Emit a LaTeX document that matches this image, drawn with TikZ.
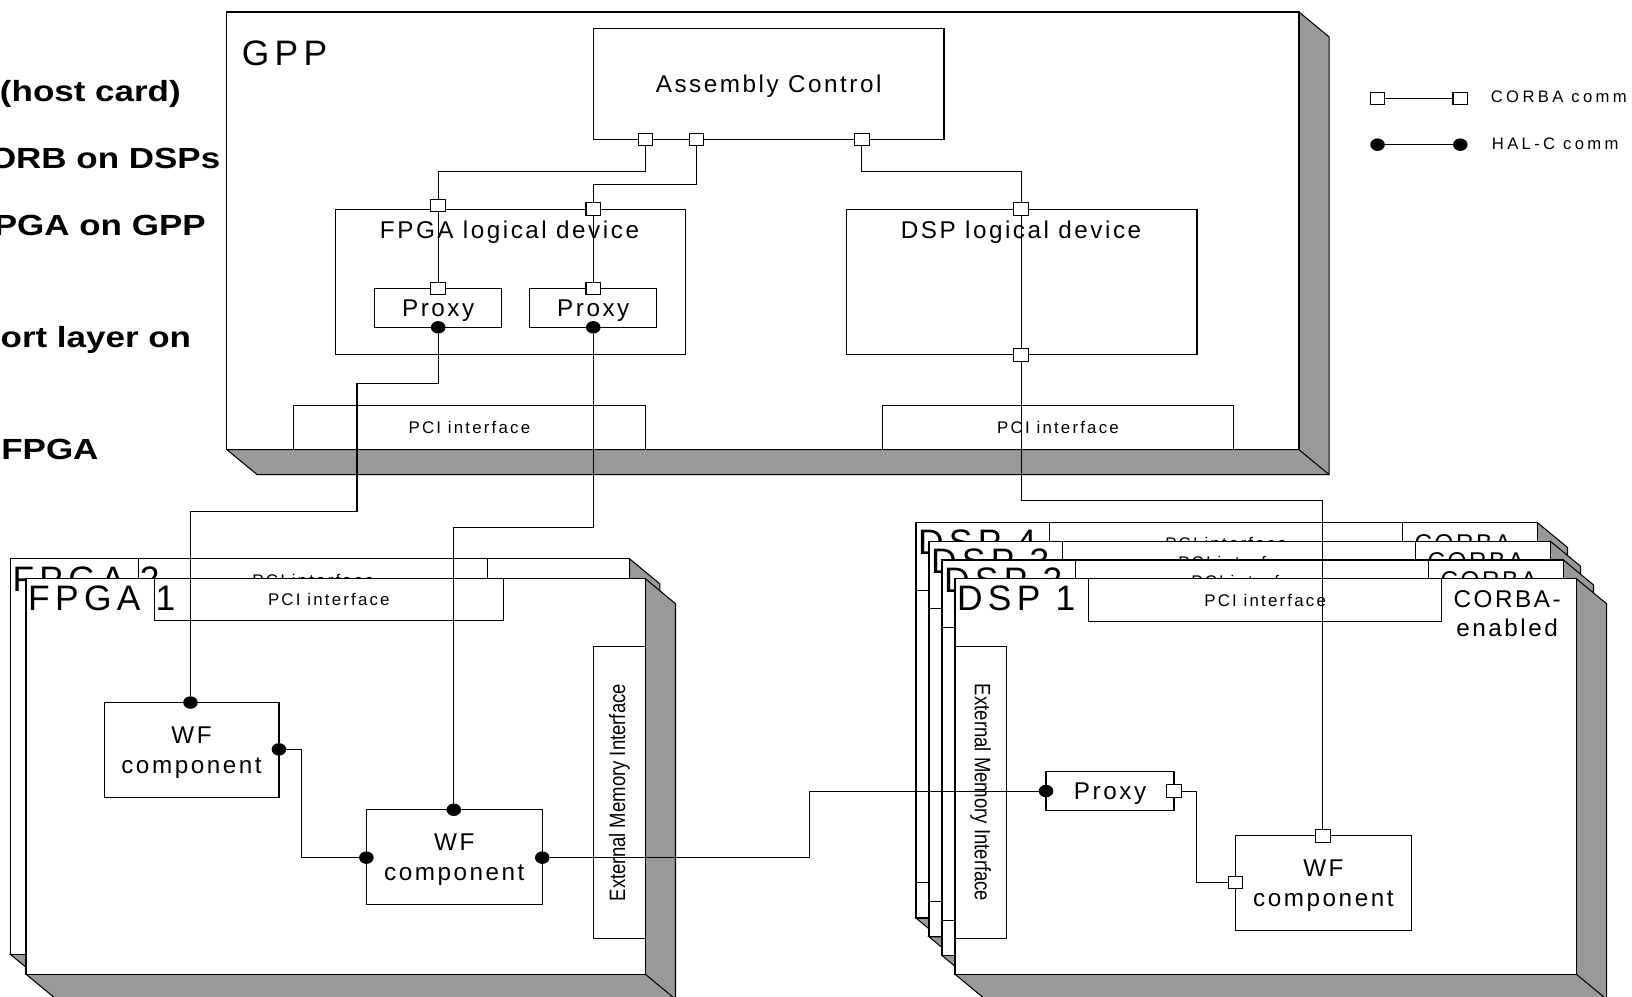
\documentclass[tikz,border=0pt]{standalone}
\usepackage{graphicx}
\usepackage{fontspec}
\setmainfont{Liberation Sans}
\newfontfamily\emifont{Liberation Sans}
\newfontfamily\fbig{Liberation Sans}[LetterSpace=15]
\newfontfamily\fmid{Liberation Sans}[LetterSpace=10.5]
\newfontfamily\fpci{Liberation Sans}[LetterSpace=13]
\newfontfamily\fleg{Liberation Sans}[LetterSpace=20]
\newfontfamily\fbold{Liberation Sans Bold}[FakeStretch=1.2]
\usetikzlibrary{shapes.geometric}
\definecolor{shadegray}{RGB}{153,153,153}

\tikzset{
  bx/.style={draw, fill=white, inner sep=0pt, outer sep=0pt, line width=0.55pt},
  cport/.style={draw, fill=white, inner sep=0pt, outer sep=0pt, minimum width=7pt, minimum height=6pt, line width=0.5pt},
  haldot/.style={ellipse, fill=black, inner sep=0pt, outer sep=0pt, minimum width=7pt, minimum height=6pt},
  wire/.style={line width=0.5pt},
  bigl/.style={font=\fbig\fontsize{17}{20}\selectfont, inner sep=0pt, anchor=base west},
  midt/.style={font=\fmid\fontsize{11.65}{14.5}\selectfont, align=center, inner sep=0pt},
  boxt/.style={midt, yshift=-1.4pt},
  pcit/.style={font=\fpci\fontsize{8.1}{10}\selectfont},
  legt/.style={font=\fleg\fontsize{8}{10}\selectfont, inner sep=0pt, anchor=west},
  boldt/.style={font=\fbold\fontsize{14}{16}\selectfont, inner sep=0pt, anchor=base east},
}

\newcommand\emitext{\scalebox{1}[1.2]{\emifont\fontsize{8.9}{10}\selectfont External Memory Interface}}

\newcommand\boardshape[4]{%
  \filldraw[fill=shadegray, line width=0.5pt] (#3,#2) -- ++(29,24) -- (#3+29,#4+24) -- (#1+29,#4+24) -- (#1,#4) -- (#3,#4) -- cycle;
  \draw[line width=0.5pt] (#3,#4) -- ++(29,24);
  \filldraw[fill=white, line width=0.55pt] (#1,#2) rectangle (#3,#4);
}

\newcommand\fpgaboard[3]{%
  \boardshape{#1}{#2}{#1+595}{#2+380}
  \node[bx, pcit, minimum width=167.75pt, minimum height=20.25pt, anchor=north west] (fpgapci#3) at (#1+123.2,#2) {PCI interface};
  \node[bigl] (fpgalabel#3) at (#1+1.7,#2+31) {FPGA #3};
  \node[bx, minimum width=25pt, minimum height=140.5pt, anchor=north east] (fpgaemi#3) at (#1+595,#2+65) {\rotatebox{90}{\emitext}};
}

\newcommand\dspboard[3]{%
  \boardshape{#1}{#2}{#1+597}{#2+380}
  \node[bx, pcit, minimum width=169.5pt, minimum height=20.5pt, anchor=north west] (dsppci#3) at (#1+128.5,#2) {PCI interface};
  \node[bigl] (dsplabel#3) at (#1+1.7,#2+31) {DSP #3};
  \node[midt, font=\fmid\fontsize{11.65}{14}\selectfont] (dspcorba#3) at (#1+530.5,#2+33.5) {CORBA-\\enabled};
  \node[bx, minimum width=24.75pt, minimum height=140.5pt, anchor=north west] (dspemi#3) at (#1,#2+65) {\rotatebox{-90}{\emitext}};
}

\begin{document}
\begin{tikzpicture}[x=0.5pt, y=-0.5pt]
\useasboundingbox (0,0) rectangle (1568,957);

% left text fragments
\node[boldt] (b1) at (174,98) {(host card)};
\node[boldt] (b2) at (212,162) {ORB on DSPs};
\node[boldt] (b3) at (198,226) {PGA on GPP};
\node[boldt] (b4) at (184,334) {ort layer on};
\node[boldt] (b5) at (95,441) {FPGA};

% GPP
\boardshape{218}{11.5}{1248}{432}
\node[bigl] (gpplabel) at (232,63) {GPP};
\node[bx, minimum width=168.5pt, minimum height=53.5pt] (ac) at (738.5,80.5) {};
\node[boxt] (act) at (ac.center) {Assembly Control};
\node[bx, minimum width=168.5pt, minimum height=70pt] (fld) at (490.5,271) {};
\node[midt, anchor=base] (fldt) at (489.5,229) {FPGA logical device};
\node[bx, minimum width=168.5pt, minimum height=70pt] (dld) at (981.5,271) {};
\node[midt, anchor=base] (dldt) at (981,229) {DSP logical device};
\node[bx, minimum width=61pt, minimum height=18.75pt] (px1) at (421,295.75) {};
\node[boxt] (px1t) at (px1.center) {Proxy};
\node[bx, minimum width=61pt, minimum height=18.75pt] (px2) at (570,295.75) {};
\node[boxt] (px2t) at (px2.center) {Proxy};
\node[bx, pcit, minimum width=169pt, minimum height=21pt] (gpci1) at (451,411) {PCI interface};
\node[bx, pcit, minimum width=168.5pt, minimum height=21pt] (gpci2) at (1016.5,411) {PCI interface};
\node[cport] (acp1) at (620,134) {};
\node[cport] (acp2) at (669,134) {};
\node[cport] (acp3) at (828,134) {};
\node[cport] (fldp1) at (421,197.5) {};
\node[cport] (fldp2) at (570,201) {};
\node[cport] (px1p) at (421,277) {};
\node[cport] (px2p) at (570,277) {};
\node[cport] (dldp1) at (981,201) {};
\node[cport] (dldp2) at (981,341) {};
\node[haldot] (px1d) at (421,314.5) {};
\node[haldot] (px2d) at (570,314.5) {};

% FPGA boards
\fpgaboard{10}{537}{2}
\fpgaboard{25}{556}{1}
\node[bx, minimum width=84pt, minimum height=45.5pt] (wf1) at (184,720.5) {};
\node[boxt] (wf1txt) at (wf1.center) {WF\\component};
\node[bx, minimum width=84.5pt, minimum height=45.5pt] (wf2) at (436.5,823.5) {};
\node[boxt] (wf2txt) at (wf2.center) {WF\\component};
\node[haldot] (wf1t) at (183,675) {};
\node[haldot] (wf1r) at (268,720) {};
\node[haldot] (wf2t) at (436,778) {};
\node[haldot] (wf2l) at (352,824) {};
\node[haldot] (wf2r) at (521,824) {};

% DSP boards
\dspboard{880}{502}{4}
\dspboard{892.5}{520}{3}
\dspboard{905}{538}{2}
\dspboard{917.5}{556}{1}
\node[bx, minimum width=61.5pt, minimum height=19pt] (dpx) at (1066.5,760) {};
\node[boxt] (dpxt) at (dpx.center) {Proxy};
\node[bx, minimum width=84.5pt, minimum height=45.5pt] (dwf) at (1271.5,848.5) {};
\node[boxt] (dwftxt) at (dwf.center) {WF\\component};
\node[haldot] (dpxl) at (1005,760) {};
\node[cport] (dpxr) at (1128,760) {};
\node[cport] (dwfp) at (1271,803) {};
\node[cport] (dwfl) at (1187,848) {};

% legend
\node[cport] (lc1) at (1323.5,94.5) {};
\node[cport] (lc2) at (1403,94.5) {};
\node[haldot] (lh1) at (1323.5,139) {};
\node[haldot] (lh2) at (1403,139) {};
\node[legt] (lct) at (1432,93) {CORBA comm};
\node[legt] (lht) at (1433,138) {HAL-C comm};
\draw[wire] (lc1) -- (lc2);
\draw[wire] (lh1) -- (lh2);

% waypoints
\coordinate (h1) at (0,165);
\coordinate (h2) at (0,177);
\coordinate (h3) at (0,481);
\coordinate (h4) at (0,507);
\coordinate (k1) at (343,368);
\coordinate (k2) at (343,491);
\coordinate (v1) at (290,0);
\coordinate (v2) at (778,0);
\coordinate (v3) at (1150,0);

% connectors
\draw[wire] (acp1.south) -- (acp1.south |- h1) -| (fldp1.north);
\draw[wire] (acp2.south) -- (acp2.south |- h2) -| (fldp2.north);
\draw[wire] (acp3.south) -- (acp3.south |- h1) -| (dldp1.north);
\draw[wire] (fldp1.south) -- (px1p.north);
\draw[wire] (fldp2.south) -- (px2p.north);
\draw[wire] (dldp1.south) -- (dldp2.north);
\draw[wire] (dldp2.south) -- (dldp2.south |- h3) -| (dwfp.north);
\draw[wire] (px1d.south) |- (k1) -- (k2) -| (wf1t.north);
\draw[wire] (px2d.south) -- (px2d.south |- h4) -| (wf2t.north);
\draw[wire] (wf1r.east) -- (wf1r.east -| v1) |- (wf2l.west);
\draw[wire] (wf2r.east) -- (wf2r.east -| v2) |- (dpxl.west);
\draw[wire] (dpxr.east) -- (dpxr.east -| v3) |- (dwfl.west);
\end{tikzpicture}
\end{document}
